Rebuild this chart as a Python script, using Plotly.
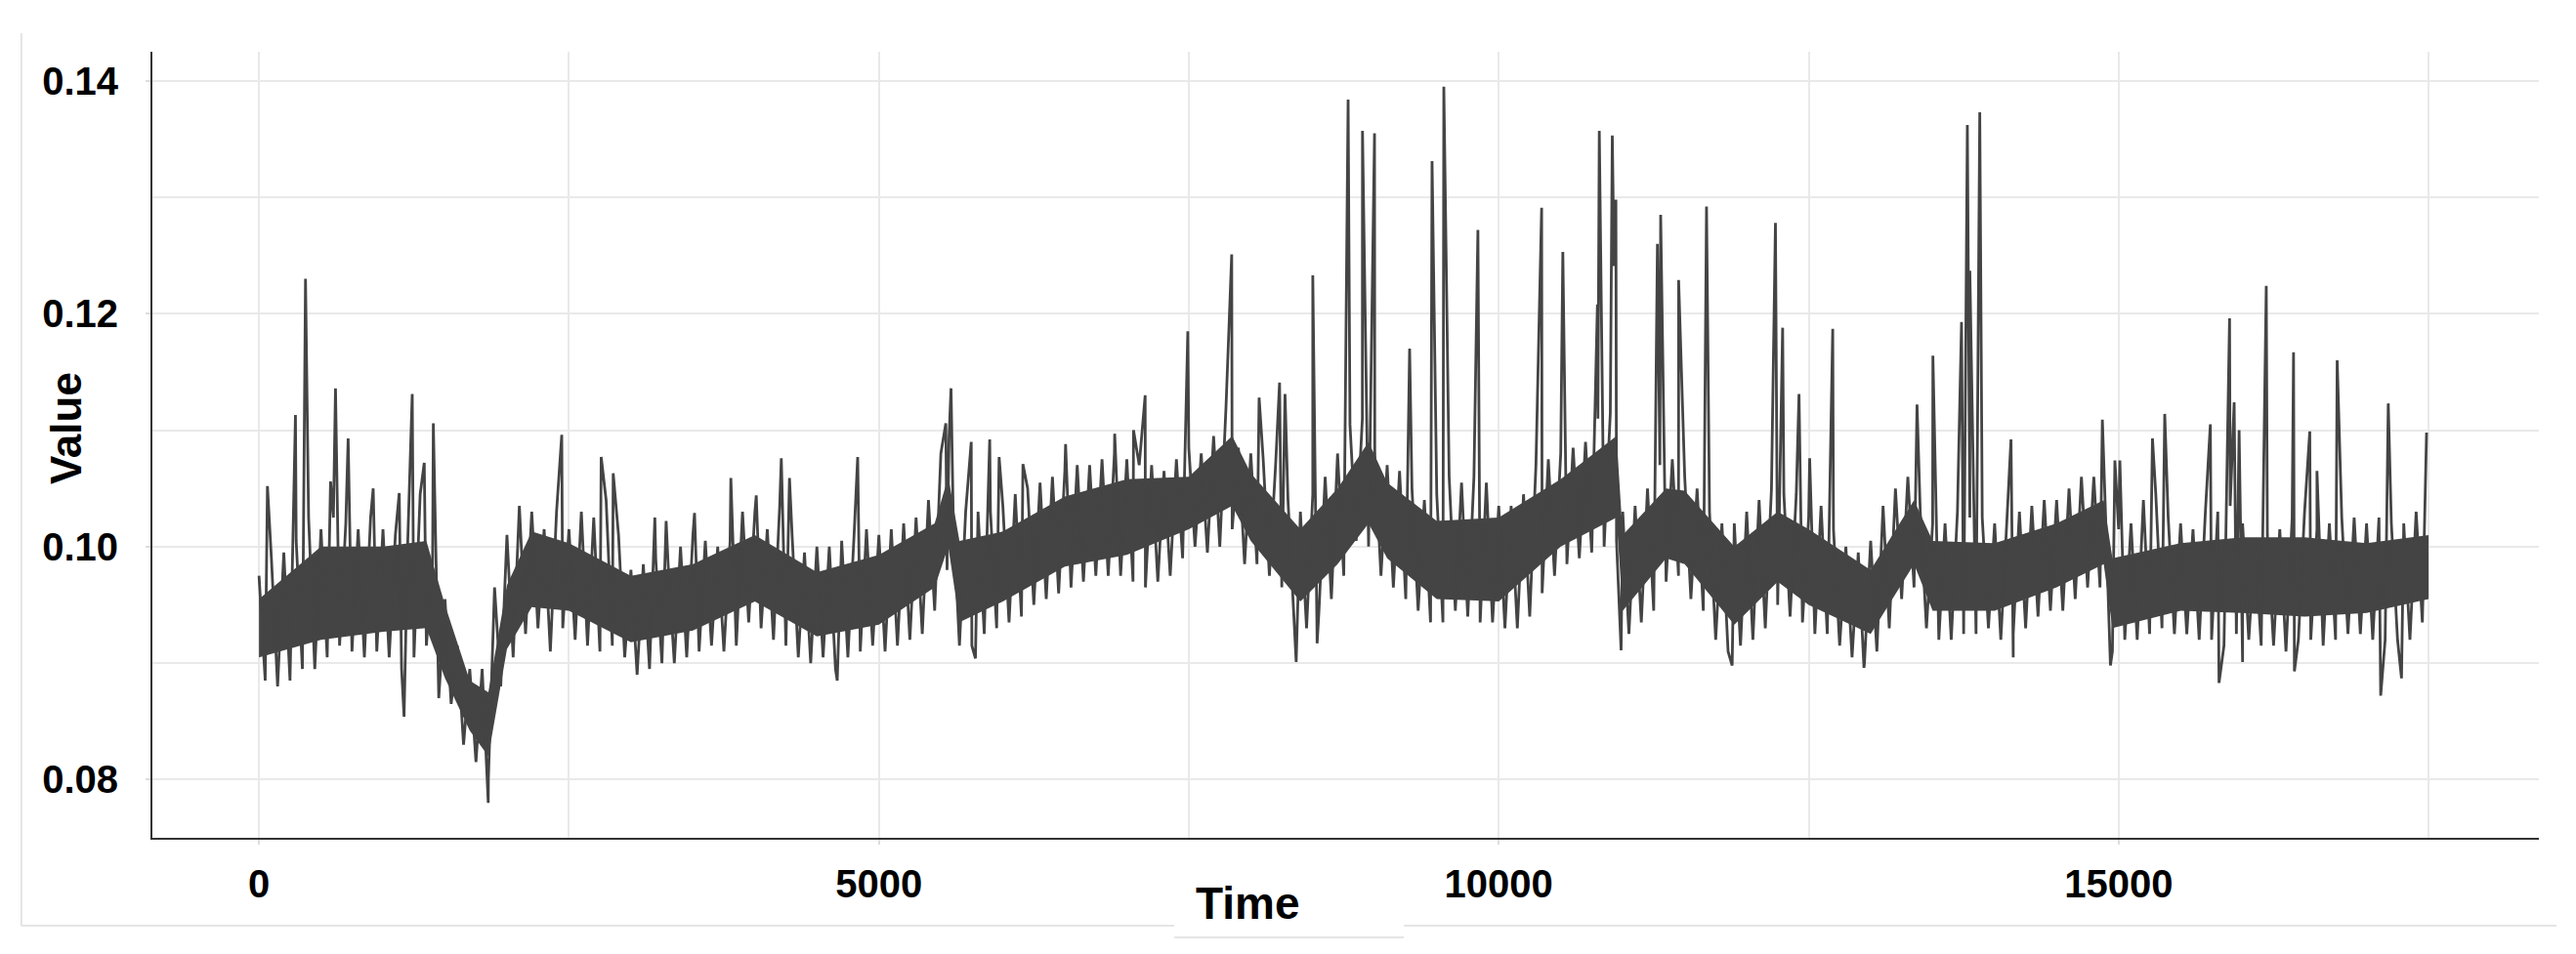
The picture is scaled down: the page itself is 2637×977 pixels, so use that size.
import plotly.graph_objects as go

# min/max of the series in 100-step bins (bin starts 0, 100, ..., 17400)
bin_hi = [
    0.0975, 0.0990, 0.0995, 0.1005, 0.1025, 0.1015, 0.1025, 0.1020, 0.1015, 0.1025,
    0.1015, 0.1010, 0.1005, 0.1045, 0.0985, 0.0955, 0.0915, 0.0895, 0.0895, 0.0965,
    0.1010, 0.1035, 0.1030, 0.1015, 0.1030,
    0.1015, 0.1030, 0.1025, 0.1040, 0.1010, 0.0980, 0.0985, 0.0990, 0.0985, 0.1000,
    0.1010, 0.1005, 0.1000, 0.1005, 0.1030, 0.1030, 0.1015, 0.1035, 0.1010, 0.0995,
    0.1000, 0.1000, 0.1005, 0.1010, 0.1015,
    0.1010, 0.1015, 0.1020, 0.1025, 0.1040, 0.1080, 0.1025, 0.1030, 0.1030, 0.1030,
    0.1035, 0.1045, 0.1050, 0.1055, 0.1060, 0.1065, 0.1070, 0.1070, 0.1075, 0.1080,
    0.1075, 0.1070, 0.1070, 0.1065, 0.1075,
    0.1085, 0.1080, 0.1095, 0.1120, 0.1085, 0.1080, 0.1075, 0.1070, 0.1040, 0.1030,
    0.1045, 0.1060, 0.1080, 0.1105, 0.1110, 0.1080, 0.1070, 0.1065, 0.1050, 0.1040,
    0.1045, 0.1060, 0.1055, 0.1060, 0.1055,
    0.1035, 0.1035, 0.1045, 0.1070, 0.1075, 0.1080, 0.1085, 0.1090, 0.1110, 0.1115,
    0.1030, 0.1035, 0.1050, 0.1070, 0.1075, 0.1060, 0.1050, 0.1030, 0.1020, 0.1020,
    0.1030, 0.1040, 0.1050, 0.1045, 0.1045,
    0.1025, 0.1035, 0.1015, 0.1000, 0.0995, 0.1005, 0.1035, 0.1050, 0.1060, 0.1030,
    0.1020, 0.1020, 0.1030, 0.1025, 0.1025, 0.1020, 0.1025, 0.1030, 0.1035, 0.1040,
    0.1040, 0.1050, 0.1060, 0.1060, 0.1010,
    0.1015, 0.1020, 0.1040, 0.1045, 0.1025, 0.1020, 0.1015, 0.1030, 0.1030, 0.1035,
    0.1020, 0.1005, 0.1010, 0.1015, 0.1025, 0.1030, 0.1015, 0.1020, 0.1025, 0.1025,
    0.1020, 0.1025, 0.1020, 0.1020, 0.1030,
]
bin_lo = [
    0.0885, 0.0880, 0.0885, 0.0895, 0.0895, 0.0905, 0.0915, 0.0910, 0.0905, 0.0910,
    0.0905, 0.0895, 0.0905, 0.0915, 0.0870, 0.0865, 0.0830, 0.0815, 0.0800, 0.0880,
    0.0905, 0.0925, 0.0930, 0.0910, 0.0930,
    0.0920, 0.0915, 0.0910, 0.0915, 0.0905, 0.0890, 0.0895, 0.0900, 0.0900, 0.0905,
    0.0910, 0.0915, 0.0910, 0.0915, 0.0935, 0.0930, 0.0920, 0.0915, 0.0905, 0.0900,
    0.0905, 0.0895, 0.0905, 0.0910, 0.0915,
    0.0910, 0.0915, 0.0920, 0.0925, 0.0945, 0.0980, 0.0915, 0.0915, 0.0925, 0.0930,
    0.0935, 0.0940, 0.0950, 0.0955, 0.0960, 0.0965, 0.0970, 0.0975, 0.0975, 0.0975,
    0.0970, 0.0965, 0.0970, 0.0975, 0.0990,
    0.1000, 0.0995, 0.1000, 0.1015, 0.0985, 0.0985, 0.0975, 0.0965, 0.0935, 0.0930,
    0.0945, 0.0955, 0.0975, 0.1005, 0.1000, 0.0975, 0.0965, 0.0955, 0.0945, 0.0935,
    0.0935, 0.0945, 0.0940, 0.0935, 0.0935,
    0.0930, 0.0930, 0.0940, 0.0960, 0.0975, 0.0985, 0.0990, 0.0995, 0.1000, 0.1005,
    0.0925, 0.0935, 0.0945, 0.0970, 0.0975, 0.0955, 0.0945, 0.0920, 0.0910, 0.0915,
    0.0920, 0.0930, 0.0950, 0.0940, 0.0935,
    0.0925, 0.0925, 0.0915, 0.0905, 0.0900, 0.0910, 0.0930, 0.0955, 0.0965, 0.0930,
    0.0920, 0.0920, 0.0925, 0.0925, 0.0930, 0.0920, 0.0925, 0.0930, 0.0940, 0.0945,
    0.0945, 0.0955, 0.0965, 0.0965, 0.0910,
    0.0920, 0.0920, 0.0925, 0.0930, 0.0925, 0.0925, 0.0920, 0.0920, 0.0915, 0.0925,
    0.0920, 0.0915, 0.0915, 0.0910, 0.0920, 0.0920, 0.0915, 0.0920, 0.0925, 0.0925,
    0.0920, 0.0920, 0.0920, 0.0920, 0.0935,
]

# isolated spikes (time, value)
spike_t = [
    68, 294, 375, 577, 617, 719, 921, 1131, 1170, 1236, 1333, 1406, 1849, 2442,
    2760, 2857, 3193, 3284, 3513, 3806, 4011, 4213, 4279, 4664, 4829,
    5540, 5566, 5582, 5745, 5779, 5894, 5970, 6162, 6506, 6902, 7054, 7148, 7492,
    7846, 8067, 8232, 8276, 8366, 8500, 8535, 8785, 8901, 8998, 9281, 9462, 9557, 9832,
    10346, 10517, 10796, 10811, 10916, 10930, 10945, 10987, 11280, 11306, 11451,
    11676, 11883, 12232, 12290, 12422,
    12508, 12694, 12946, 13374, 13502, 13733, 13780, 13800, 13880, 14132, 14150,
    14869, 14934, 14970,
    15010, 15273, 15372, 15740, 15810, 15895, 15932, 15972, 16000, 16191, 16411,
    16418, 16542, 16600, 16763, 17114, 17175, 17282, 17484,
]
spike_v = [
    0.1052, 0.1113, 0.1230, 0.1056, 0.1136, 0.1093, 0.1050, 0.1046, 0.0854, 0.1131,
    0.1072, 0.1106, 0.0780, 0.1096,
    0.1077, 0.1063, 0.1025, 0.1022, 0.1029, 0.1059, 0.1044, 0.1076, 0.1059, 0.0885,
    0.1077,
    0.1106, 0.1094, 0.1136, 0.1090, 0.0904, 0.1092, 0.1077, 0.1071, 0.1088, 0.1097,
    0.1100, 0.1130, 0.1185,
    0.1251, 0.1128, 0.1141, 0.1131, 0.0901, 0.1233, 0.0917, 0.1384, 0.1357, 0.1355,
    0.1170, 0.1331, 0.1395, 0.1272,
    0.1291, 0.1253, 0.1208, 0.1357, 0.1353, 0.1241, 0.1298, 0.0911, 0.1260, 0.1285,
    0.1229, 0.1292, 0.0898, 0.1278, 0.1188, 0.1131,
    0.1076, 0.1187, 0.0896, 0.1122, 0.1164, 0.1193, 0.1362, 0.1237, 0.1373, 0.1092,
    0.0905, 0.1109, 0.0898, 0.1074,
    0.1074, 0.1093, 0.1114, 0.1105, 0.0883, 0.1196, 0.1124, 0.1100, 0.0901, 0.1224,
    0.1167, 0.0893, 0.1099, 0.1065, 0.1160, 0.0872, 0.1123, 0.0887, 0.1098,
]

# dense middle of the band, where the trace looks solid
core_t = [
    0, 500, 1000, 1350, 1500, 1700, 1850, 2000, 2200, 2500, 3000, 3500, 4000, 4500,
    5000, 5450, 5560, 5650, 6000, 6500, 7000, 7500, 7850, 8000, 8400, 8700, 8950,
    9100, 9500, 10000, 10500, 10950, 11000, 11350, 11500, 11900, 12250, 12500,
    13000, 13350, 13500, 14000, 14500, 14880, 14950, 15500, 16000, 16500, 17000, 17500,
]
core_hi = [
    0.0955, 0.1000, 0.1000, 0.1005, 0.0950, 0.0885, 0.0875, 0.0967, 0.1013, 0.1003,
    0.0975, 0.0985, 0.1010, 0.0978, 0.0993, 0.1020, 0.1060, 0.1005, 0.1013, 0.1043,
    0.1058, 0.1060, 0.1095, 0.1063, 0.1015, 0.1050, 0.1090, 0.1055, 0.1022, 0.1025,
    0.1058, 0.1095, 0.1010, 0.1050, 0.1048, 0.1000, 0.1030, 0.1015, 0.0980, 0.1040,
    0.1005, 0.1003, 0.1020, 0.1040, 0.0990, 0.1003, 0.1008, 0.1008, 0.1003, 0.1010,
]
core_lo = [
    0.0905, 0.0920, 0.0927, 0.0930, 0.0887, 0.0842, 0.0820, 0.0912, 0.0948, 0.0945,
    0.0918, 0.0928, 0.0953, 0.0923, 0.0933, 0.0965, 0.1000, 0.0935, 0.0953, 0.0983,
    0.0993, 0.1015, 0.1035, 0.1005, 0.0953, 0.0985, 0.1020, 0.0990, 0.0955, 0.0953,
    0.1000, 0.1025, 0.0945, 0.0990, 0.0985, 0.0933, 0.0970, 0.0950, 0.0925, 0.0985,
    0.0945, 0.0945, 0.0965, 0.0985, 0.0930, 0.0945, 0.0943, 0.0940, 0.0943, 0.0955,
]

x_ticks = [0, 5000, 10000, 15000]
y_ticks = [0.08, 0.10, 0.12, 0.14]

LINE = '#444444'
GRID = '#e9e9e9'
FONT = 'Liberation Sans, Arial, sans-serif'

# bin min/max samples plus the spikes, in time order
points = []
for i, (hi, lo) in enumerate(zip(bin_hi, bin_lo)):
    points.append((i * 100, hi))
    points.append((i * 100 + 50, lo))
points += list(zip(spike_t, spike_v))
points.sort()
series_t = [p[0] for p in points]
series_v = [p[1] for p in points]

fig = go.Figure()

fig.add_trace(go.Scatter(
    x=core_t + core_t[::-1],
    y=core_hi + core_lo[::-1],
    fill='toself',
    fillcolor=LINE,
    line=dict(width=0),
    mode='lines',
    hoverinfo='skip',
))

fig.add_trace(go.Scatter(
    x=series_t,
    y=series_v,
    mode='lines',
    line=dict(color=LINE, width=2.8, simplify=False),
))

axis_font = dict(family=FONT, size=40, color='black', weight='bold')

fig.update_xaxes(
    range=[-860, 18390],
    tickvals=x_ticks,
    ticktext=[str(v) for v in x_ticks],
    tickfont=axis_font,
    showgrid=True, gridcolor=GRID, gridwidth=1.5,
    minor=dict(dtick=2500, tick0=0, showgrid=True, gridcolor=GRID, gridwidth=1.5),
    showline=True, linecolor='#333333', linewidth=2,
    ticks='outside', ticklen=5, tickcolor='#dddddd', tickwidth=1.5,
    ticklabelstandoff=6,
    zeroline=False,
)
fig.update_yaxes(
    range=[0.0750, 0.1425],
    tickvals=y_ticks,
    ticktext=[f'{v:.2f}' for v in y_ticks],
    tickfont=axis_font,
    showgrid=True, gridcolor=GRID, gridwidth=1.5,
    minor=dict(dtick=0.01, tick0=0.08, showgrid=True, gridcolor=GRID, gridwidth=1.5),
    showline=True, linecolor='#333333', linewidth=2,
    ticks='outside', ticklen=5, tickcolor='#dddddd', tickwidth=1.5,
    ticklabelstandoff=20,
    zeroline=False,
)

frame = dict(type='line', xref='paper', yref='paper',
             line=dict(color='#dddddd', width=1.5), layer='below')

# the page body keeps its 8px default margin, so the figure is 16px smaller
fig.update_layout(
    width=2621,
    height=961,
    margin=dict(l=148, r=30, t=45, b=111),
    paper_bgcolor='white',
    plot_bgcolor='white',
    showlegend=False,
    annotations=[
        dict(text='Time', xref='paper', yref='paper', x=0.4589, y=-0.0832,
             xanchor='center', yanchor='middle', showarrow=False,
             font=dict(family=FONT, size=46, color='black', weight='bold')),
        dict(text='Value', xref='paper', yref='paper', x=-0.0360, y=0.5205,
             xanchor='center', yanchor='middle', showarrow=False, textangle=-90,
             font=dict(family=FONT, size=44, color='black', weight='bold')),
    ],
    shapes=[
        dict(frame, x0=-0.0549, x1=-0.0549, y0=1.0236, y1=-0.1118),
        dict(frame, x0=-0.0549, x1=0.4282, y0=-0.1118, y1=-0.1118),
        dict(frame, x0=0.5244, x1=1.0074, y0=-0.1118, y1=-0.1118),
        dict(frame, x0=0.4282, x1=0.5244, y0=-0.1267, y1=-0.1267),
    ],
)

fig.write_html('out.html')
